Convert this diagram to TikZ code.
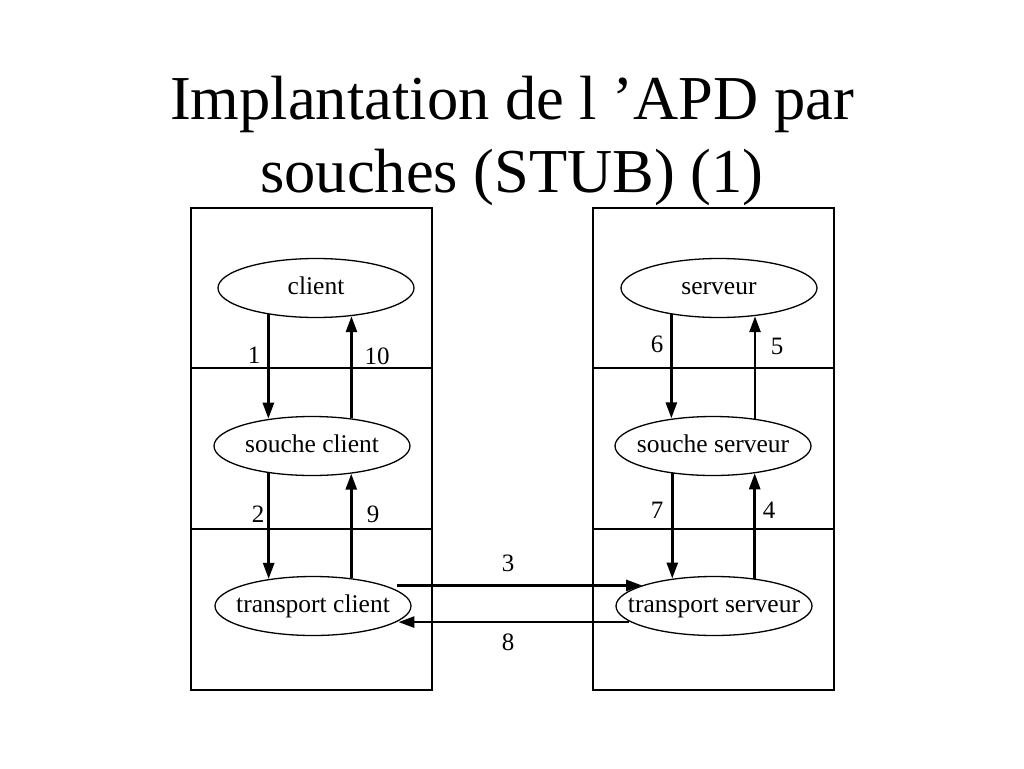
\documentclass[tikz,border=0pt]{standalone}
\usepackage{fontspec}
\setmainfont{Liberation Serif}
\usetikzlibrary{arrows.meta,shapes.geometric}
\newcommand{\elltext}[1]{\makebox[0pt]{\raisebox{-6pt}[0pt][0pt]{#1}}}
\begin{document}
\begin{tikzpicture}[x=1pt,y=-1pt,
  box/.style={draw,line width=2.5pt},
  ell/.style={draw,ellipse,line width=1.3pt,minimum width=196pt,minimum height=59pt,inner sep=0pt,
    font=\fontsize{25.5}{28}\selectfont},
  arr/.style={line width=2.7pt,-{Triangle[length=16pt,width=11pt]}},
  lbl/.style={font=\fontsize{25}{28}\selectfont,inner sep=0pt},
  ttl/.style={font=\fontsize{62.5}{70}\selectfont,anchor=base,inner sep=0pt}]
\useasboundingbox[fill=white] (0,0) rectangle (1024,768);
% title
\node[ttl] (t1) at (512,119) {Implantation de l ’APD par};
\node[ttl] (t2) at (512,192) {souches (STUB) (1)};
% boxes
\draw[box] (191,208) rectangle (432,690);
\draw[box] (191,368) -- (432,368);
\draw[box] (191,529) -- (432,529);
\draw[box] (593,208) rectangle (834,690);
\draw[box] (593,368) -- (834,368);
\draw[box] (593,529) -- (834,529);
% ellipses
\node[ell] (c)  at (316,288) {\elltext{client}};
\node[ell] (sc) at (312,446) {\elltext{souche client}};
\node[ell] (tc) at (313,606) {\elltext{transport client}};
\node[ell] (s)  at (719,288) {\elltext{serveur}};
\node[ell] (ss) at (713,446) {\elltext{souche serveur}};
\node[ell] (ts) at (714,606) {\elltext{transport serveur}};
% left arrows
\draw[arr] (c.209.5) -- (c.209.5 |- sc.147.6);
\draw[arr] (sc.35.6) -- (sc.35.6 |- c.-39.1);
\draw[arr] (sc.212.4) -- (sc.212.4 |- tc.148.4);
\draw[arr] (tc.36.4) -- (tc.36.4 |- sc.-35.6);
% right arrows
\draw[arr] (s.209.8) -- (s.209.8 |- ss.145.2);
\draw[arr] (ss.33.9) -- (ss.33.9 |- s.-39.1);
\draw[arr] (ss.214.8) -- (ss.214.8 |- ts.146.1);
\draw[arr] (ts.34.8) -- (ts.34.8 |- ss.-33.9);
% horizontal arrows
\coordinate (h3) at ([xshift=8pt,yshift=1.5pt]tc.14);
\draw[arr] (h3) -- (h3 -| ts.164);
\coordinate (h8) at ([yshift=-1pt]ts.190);
\draw[arr] (h8) -- (h8 -| tc.-10);
% labels
\node[lbl] (l1) at (254,355) {1};
\node[lbl] (l10) at (377,356) {10};
\node[lbl] (l2) at (258,514) {2};
\node[lbl] (l9) at (373,514) {9};
\node[lbl] (l6) at (657,344) {6};
\node[lbl] (l5) at (777,346) {5};
\node[lbl] (l7) at (657,510) {7};
\node[lbl] (l4) at (769,510) {4};
\node[lbl] (l3) at (508,563) {3};
\node[lbl] (l8) at (508,642) {8};
\end{tikzpicture}
\end{document}
